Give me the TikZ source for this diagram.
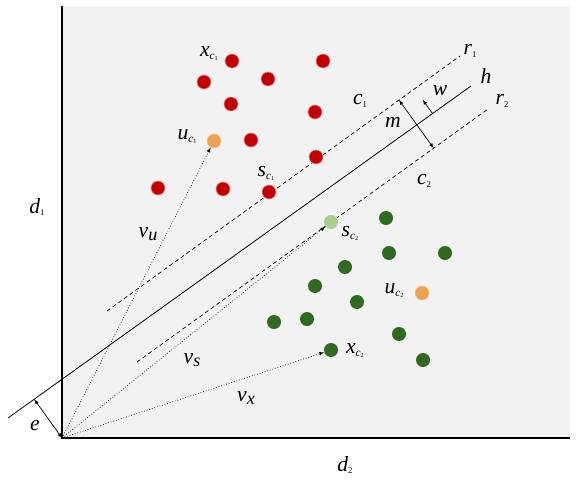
\documentclass[tikz,border=0pt]{standalone}
\usepackage{fontspec}
\setmainfont{Liberation Serif}
\usetikzlibrary{arrows,calc}

\definecolor{bggray}{RGB}{242,242,242}
\definecolor{ptred}{RGB}{195,0,0}
\definecolor{ptgreen}{RGB}{47,107,30}
\definecolor{ptorange}{RGB}{236,160,80}
\definecolor{ptlight}{RGB}{168,208,141}

% labels with subscripts
\newcommand{\clsub}[3]{\scalebox{1.25}{#1\raisebox{-0.3ex}{\small #2\raisebox{-0.2ex}{\tiny\upshape #3}}}}
\newcommand{\idx}[2]{\scalebox{1.25}{#1\raisebox{-0.3ex}{\scriptsize\upshape #2}}}
\newcommand{\vecl}[1]{\scalebox{1.25}{v\raisebox{-0.3ex}{\Large #1}}}
\newcommand{\plain}[1]{\scalebox{1.25}{#1}}

\begin{document}
\begin{tikzpicture}[x=1pt,y=-1pt,>=latex,
  dot/.style={circle,inner sep=0pt,minimum size=14pt},
  redpt/.style={dot,fill=ptred,draw=ptred!45!white,line width=0.6pt},
  greenpt/.style={dot,fill=ptgreen},
  orangept/.style={dot,fill=ptorange,draw=ptorange!60!white,line width=0.6pt},
  lab/.style={font=\LARGE\itshape,inner sep=0pt},
  vec/.style={->,dotted,line width=0.7pt},
  bound/.style={dash pattern=on 4pt off 3pt,line width=0.7pt}]
\useasboundingbox (0,0) rectangle (577,479);
\fill[bggray] (62,6) rectangle (570,438);

% axes
\coordinate (O) at (62,438);
\coordinate (top) at (62,6);
\coordinate (right) at (570,438);
\draw[line width=1.8pt] (top) -- (O) -- (right);

% hyperplane and margins
\coordinate (h1) at (8,418);
\coordinate (h2) at (471,86);
\coordinate (r1a) at (107,311);
\coordinate (r1b) at (460,56);
\coordinate (r2a) at (137,362);
\coordinate (r2b) at (488,109);
\draw[line width=0.8pt] (h1) -- (h2);
\draw[bound] (r1a) -- (r1b);
\draw[bound] (r2a) -- (r2b);

% class c1
\foreach \x/\y [count=\i] in {232/61,323/61,204/82,268/79,231/104,315/112,251/140,316/157,158/188,223/189,269/192}
  \node[redpt] (a\i) at (\x,\y) {};
\node[orangept] (uc1) at (214,141) {};

% class c2
\foreach \x/\y [count=\i] in {386/218,389/253,445/253,345/267,315/286,357/302,274/322,307/319,399/334,331/350,423/360}
  \node[greenpt] (b\i) at (\x,\y) {};
\node[dot,fill=ptlight] (sc2) at (331,222) {};
\node[orangept] (uc2) at (422,293) {};

% vectors from the origin
\draw[vec] (O) -- (uc1);
\draw[vec] (O) -- (sc2);
\draw[vec] (O) -- (b10);

% distances
\coordinate (eh) at ($(h1)!(O)!(h2)$);
\draw[<->,line width=0.7pt] (O) -- (eh);
\coordinate (m1) at (399,100);
\coordinate (m2) at ($(r2a)!(m1)!(r2b)$);
\draw[<->,line width=0.7pt] (m1) -- (m2);
\coordinate (w0) at ($(h1)!0.917!(h2)$);
\coordinate (w1) at ($(w0)!17pt!90:(h2)$);
\draw[->,line width=0.7pt] (w0) -- (w1);

% labels
\node[lab] (lxc1) at (209,54) {\clsub{x}{c}{1}};
\node[lab] (luc1) at (187,137) {\clsub{u}{c}{1}};
\node[lab] (lsc1) at (266,173) {\clsub{s}{c}{1}};
\node[lab] (lc1) at (360,101) {\idx{c}{1}};
\node[lab] (lr1) at (470,51) {\idx{r}{1}};
\node[lab] (lh) at (486,76) {\plain{h}};
\node[lab] (lr2) at (502,101) {\idx{r}{2}};
\node[lab] (lw) at (440,91) {\plain{w}};
\node[lab] (lm) at (393,122) {\plain{m}};
\node[lab] (lc2) at (424,181) {\idx{c}{2}};
\node[lab] (lsc2) at (350,233) {\clsub{s}{c}{2}};
\node[lab] (luc2) at (394,291) {\clsub{u}{c}{2}};
\node[lab] (lxc2) at (355,351) {\clsub{x}{c}{2}};
\node[lab] (lvu) at (148,234) {\vecl{u}};
\node[lab] (lvs) at (192,360) {\vecl{s}};
\node[lab] (lvx) at (246,398) {\vecl{x}};
\node[lab] (ld1) at (37,207) {\idx{d}{1}};
\node[lab] (ld2) at (345,465) {\idx{d}{2}};
\node[lab] (le) at (35,426) {\plain{e}};
\end{tikzpicture}
\end{document}
